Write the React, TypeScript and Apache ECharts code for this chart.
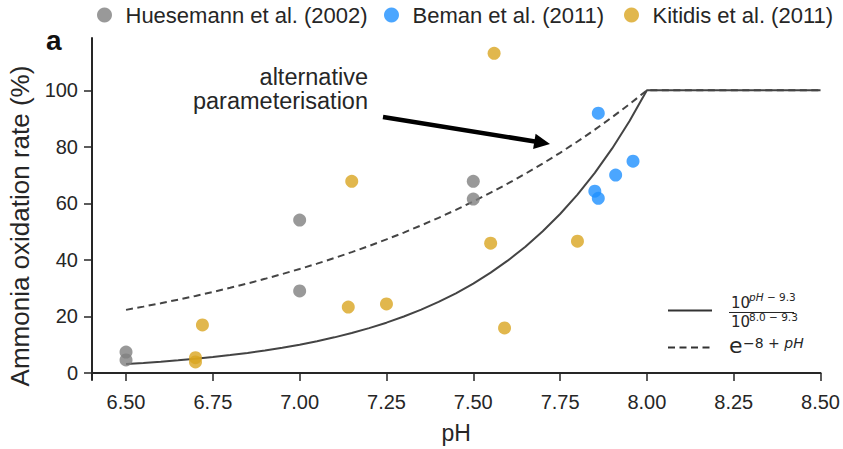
import React, { useEffect, useRef } from "react";
import * as echarts from "echarts";

const seriesNames = ["Huesemann et al. (2002)", "Beman et al. (2011)", "Kitidis et al. (2011)"];
const huesemann: [number, number][] = [
  [6.5, 7.4], [6.5, 4.6], [7.0, 54.1], [7.0, 29.0], [7.5, 67.8], [7.5, 61.5],
];
const beman: [number, number][] = [
  [7.86, 91.9], [7.96, 74.9], [7.91, 70.0], [7.85, 64.3], [7.86, 61.8],
];
const kitidis: [number, number][] = [
  [7.56, 113.1], [7.15, 67.8], [7.14, 23.3], [7.25, 24.4], [7.55, 45.9],
  [7.59, 15.9], [7.8, 46.6], [6.72, 17.0], [6.7, 5.4], [6.7, 3.9],
];
const curvePH = [
  6.5, 6.55, 6.6, 6.65, 6.7, 6.75, 6.8, 6.85, 6.9, 6.95, 7.0, 7.05, 7.1, 7.15, 7.2, 7.25,
  7.3, 7.35, 7.4, 7.45, 7.5, 7.55, 7.6, 7.65, 7.7, 7.75, 7.8, 7.85, 7.9, 7.95, 8.0, 8.5,
];
const solidCurve = [
  3.16, 3.55, 3.98, 4.47, 5.01, 5.62, 6.31, 7.08, 7.94, 8.91, 10.0, 11.22, 12.59, 14.13, 15.85, 17.78,
  19.95, 22.39, 25.12, 28.18, 31.62, 35.48, 39.81, 44.67, 50.12, 56.23, 63.1, 70.79, 79.43, 89.13, 100, 100,
];
const dashedCurve = [
  22.31, 23.46, 24.66, 25.92, 27.25, 28.65, 30.12, 31.66, 33.29, 34.99, 36.79, 38.67, 40.66, 42.74, 44.93, 47.24,
  49.66, 52.2, 54.88, 57.69, 60.65, 63.76, 67.03, 70.47, 74.08, 77.88, 81.87, 86.07, 90.48, 95.12, 100, 100,
];
const xTicks = [6.5, 6.75, 7.0, 7.25, 7.5, 7.75, 8.0, 8.25, 8.5];
const yTicks = [0, 20, 40, 60, 80, 100];
const seriesColors = ["#7f7f7f", "#1E90FF", "#DAA520"];

const FONT = "'Liberation Sans', Arial, sans-serif";
const MATH = "'DejaVu Sans', sans-serif";
const INK = "#262626";

export default function App() {
  const ref = useRef<HTMLDivElement>(null);
  useEffect(() => {
    if (!ref.current) return;
    const chart = echarts.init(ref.current, null, { renderer: "svg" });
    const zip = (ys: number[]) => curvePH.map((x, i) => [x, ys[i]]);
    const legendLefts = [92, 379, 619];
    chart.setOption({
      animation: false,
      textStyle: { fontFamily: FONT },
      grid: { left: 92, right: 22, top: 38, bottom: 69 },
      legend: seriesNames.map((n, i) => ({
        left: legendLefts[i],
        top: -1,
        itemWidth: 32,
        itemHeight: 15,
        icon: "circle",
        textStyle: { fontSize: 22, color: INK, fontFamily: FONT },
        data: [n],
      })),
      xAxis: {
        type: "value",
        min: 6.402,
        max: 8.5,
        name: "pH",
        nameLocation: "middle",
        nameGap: 41,
        nameTextStyle: { fontSize: 23, color: INK },
        axisLine: { show: true, lineStyle: { color: INK, width: 2 } },
        axisTick: { show: true, length: 8, lineStyle: { color: INK, width: 1.5 }, customValues: xTicks },
        axisLabel: {
          fontSize: 20,
          color: INK,
          margin: 12,
          customValues: xTicks,
          formatter: (v: number) => v.toFixed(2),
        },
        splitLine: { show: false },
      },
      yAxis: {
        type: "value",
        min: -2.5,
        max: 118.5,
        axisLine: { show: true, lineStyle: { color: INK, width: 2 } },
        axisTick: { show: true, length: 8, lineStyle: { color: INK, width: 1.5 }, customValues: yTicks },
        axisLabel: { fontSize: 20, color: INK, margin: 14, customValues: yTicks },
        splitLine: { show: false },
      },
      series: [
        {
          name: "solid",
          type: "line",
          data: zip(solidCurve),
          showSymbol: false,
          symbol: "none",
          lineStyle: { color: "#444444", width: 2 },
          z: 1,
        },
        {
          name: "dashed",
          type: "line",
          data: zip(dashedCurve),
          showSymbol: false,
          symbol: "none",
          lineStyle: { color: "#444444", width: 2, type: [7, 4.5] },
          z: 1,
        },
        ...[huesemann, beman, kitidis].map((d, i) => ({
          name: seriesNames[i],
          type: "scatter",
          data: d,
          symbolSize: 13,
          itemStyle: { color: seriesColors[i], opacity: 0.8 },
          z: 3,
        })),
      ],
      graphic: [
        {
          type: "text",
          left: 46,
          top: 26,
          style: { text: "a", fontSize: 28, fontWeight: "bold", fill: "#111", fontFamily: FONT },
        },
        {
          type: "text",
          x: 20,
          y: 226,
          rotation: Math.PI / 2,
          style: {
            text: "Ammonia oxidation rate (%)",
            align: "center",
            verticalAlign: "middle",
            fontSize: 26,
            fill: INK,
            fontFamily: FONT,
          },
        },
        {
          type: "text",
          x: 368,
          y: 77,
          style: { text: "alternative", align: "right", verticalAlign: "middle", fontSize: 23.5, fill: INK, fontFamily: FONT },
        },
        {
          type: "text",
          x: 368,
          y: 101,
          style: { text: "parameterisation", align: "right", verticalAlign: "middle", fontSize: 23.5, fill: INK, fontFamily: FONT },
        },
        {
          type: "line",
          shape: { x1: 383, y1: 117, x2: 535, y2: 141.5 },
          style: { stroke: "#000", lineWidth: 4.5 },
        },
        {
          type: "polygon",
          shape: { points: [[550, 144], [533.1, 149], [535.6, 133.8]] },
          style: { fill: "#000" },
        },
        {
          type: "line",
          shape: { x1: 668, y1: 310.5, x2: 712, y2: 310.5 },
          style: { stroke: "#333", lineWidth: 2 },
        },
        {
          type: "line",
          shape: { x1: 668, y1: 347.5, x2: 712, y2: 347.5 },
          style: { stroke: "#333", lineWidth: 2, lineDash: [7, 4.5] },
        },
        {
          type: "text",
          x: 731,
          y: 302.5,
          style: { text: "10", verticalAlign: "middle", fontSize: 15, fill: INK, fontFamily: MATH },
        },
        {
          type: "text",
          x: 749,
          y: 297,
          style: {
            text: "{i|pH} − 9.3",
            verticalAlign: "middle",
            fontSize: 10.5,
            fill: INK,
            fontFamily: MATH,
            rich: { i: { fontStyle: "italic", fontSize: 10.5, fill: INK, fontFamily: MATH } },
          },
        },
        {
          type: "line",
          shape: { x1: 729, y1: 312.5, x2: 794, y2: 312.5 },
          style: { stroke: INK, lineWidth: 1 },
        },
        {
          type: "text",
          x: 731,
          y: 321.5,
          style: { text: "10", verticalAlign: "middle", fontSize: 15, fill: INK, fontFamily: MATH },
        },
        {
          type: "text",
          x: 749,
          y: 317,
          style: { text: "8.0 − 9.3", verticalAlign: "middle", fontSize: 10.5, fill: INK, fontFamily: MATH },
        },
        {
          type: "text",
          x: 729,
          y: 345.5,
          style: { text: "e", verticalAlign: "middle", fontSize: 22, fill: INK, fontFamily: MATH },
        },
        {
          type: "text",
          x: 743,
          y: 342.5,
          style: {
            text: "−8 + {i|pH}",
            verticalAlign: "middle",
            fontSize: 14,
            fill: INK,
            fontFamily: MATH,
            rich: { i: { fontStyle: "italic", fontSize: 14, fill: INK, fontFamily: MATH } },
          },
        },
      ],
    });
    return () => chart.dispose();
  }, []);
  return (
    <div
      ref={ref}
      style={{ position: "fixed", left: 0, top: 0, width: 843, height: 449, background: "#fff" }}
    />
  );
}
